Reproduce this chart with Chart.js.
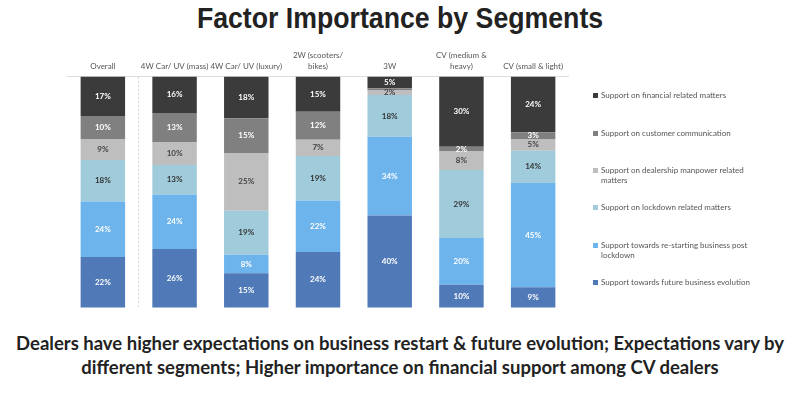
<!DOCTYPE html>
<html lang="en">
<head>
  <meta charset="UTF-8" />
  <title>Factor Importance by Segments</title>
  <script src="https://cdn.jsdelivr.net/npm/chart.js"></script>
  <style>
    body {
      margin: 0;
      width: 800px;
      height: 399px;
      background: #fff;
      position: relative;
      overflow: hidden;
      font-family: 'Lato', 'Open Sans', sans-serif;
    }
    h1 {
      position: absolute;
      top: 0;
      left: 0;
      width: 800px;
      margin: 0;
      text-align: center;
      font-family: 'Liberation Sans', Arial, sans-serif;
      font-weight: bold;
      font-size: 29px;
      line-height: 36px;
      color: #222;
      transform: scaleX(0.92);
    }
    .chart-wrap {
      position: absolute;
      left: 0;
      top: 0;
      width: 800px;
      height: 320px;
    }
    .legend {
      position: absolute;
      left: 593px;
      top: 0;
      width: 170px;
    }
    .legend div {
      position: absolute;
      left: 0;
      width: 160px;
      padding-left: 8px;
      font-size: 8px;
      line-height: 10px;
      color: #555;
    }
    .legend span {
      position: absolute;
      left: 0;
      top: 3px;
      width: 5px;
      height: 5px;
    }
    .note {
      position: absolute;
      left: 0;
      top: 331px;
      width: 800px;
      text-align: center;
      font-weight: bold;
      font-size: 18.5px;
      line-height: 24px;
      color: #222;
    }
  </style>
</head>
<body>

<h1>Factor Importance by Segments</h1>
<div class="chart-wrap"><canvas id="chart"></canvas></div>
<div class="legend" id="legend"></div>
<div class="note">Dealers have higher expectations on business restart &amp; future evolution; Expectations vary by<br>different segments; Higher importance on financial support among CV dealers</div>

<script>
  const segments = [
    'Overall',
    '4W Car/ UV (mass)',
    '4W Car/ UV (luxury)',
    ['2W (scooters/', 'bikes)'],
    '3W',
    ['CV (medium &', 'heavy)'],
    'CV (small & light)'
  ];

  // bottom to top of each bar
  const futureEvolution = [22, 26, 15, 24, 40, 10, 9];
  const restartPost     = [24, 24, 8, 22, 34, 20, 45];
  const lockdown        = [18, 13, 19, 19, 18, 29, 14];
  const manpower        = [9, 10, 25, 7, 2, 8, 5];
  const customerComm    = [10, 13, 15, 12, 1, 2, 3];
  const financial       = [17, 16, 18, 15, 5, 30, 24];

  const series = [
    { label: 'Support towards future business evolution', data: futureEvolution, color: '#5079b8', text: '#fff' },
    { label: 'Support towards re-starting business post lockdown', data: restartPost, color: '#6db3ec', text: '#fff' },
    { label: 'Support on lockdown related matters', data: lockdown, color: '#9fcbdb', text: '#333' },
    { label: 'Support on dealership manpower related matters', data: manpower, color: '#bebebe', text: '#444' },
    { label: 'Support on customer communication', data: customerComm, color: '#808080', text: '#fff' },
    { label: 'Support on financial related matters', data: financial, color: '#3b3b3b', text: '#fff' }
  ];

  // each bar is a 100% stack
  const totals = segments.map((_, i) => series.reduce((s, d) => s + d.data[i], 0));

  const labelPlugin = {
    id: 'segLabels',
    afterDatasetsDraw(chart) {
      const ctx = chart.ctx;
      ctx.save();
      ctx.font = 'bold 8px Lato, sans-serif';
      ctx.textAlign = 'center';
      ctx.textBaseline = 'middle';
      chart.data.datasets.forEach((ds, di) => {
        const meta = chart.getDatasetMeta(di);
        meta.data.forEach((bar, i) => {
          const v = series[di].data[i];
          if (v < 2) return;
          const p = bar.getProps(['x', 'y', 'base'], true);
          ctx.fillStyle = series[di].text;
          ctx.fillText(v + '%', p.x, (p.y + p.base) / 2);
        });
      });
      ctx.restore();
    }
  };

  new Chart(document.getElementById('chart'), {
    type: 'bar',
    data: {
      labels: segments,
      datasets: series.map(s => ({
        label: s.label,
        data: s.data.map((v, i) => v / totals[i] * 100),
        backgroundColor: s.color,
        borderWidth: 0,
        categoryPercentage: 1,
        barPercentage: 0.62
      }))
    },
    options: {
      responsive: true,
      maintainAspectRatio: false,
      animation: false,
      layout: { padding: { left: 67, right: 231, top: 45, bottom: 12 } },
      plugins: { legend: { display: false }, tooltip: { enabled: false } },
      scales: {
        x: {
          stacked: true,
          position: 'top',
          grid: {
            offset: true,
            drawTicks: false,
            lineWidth: 1,
            color: c => c.index === 1 ? '#d8d8d8' : 'transparent'
          },
          border: { display: false, dash: [2, 2] },
          ticks: {
            color: '#555',
            padding: 5,
            maxRotation: 0,
            autoSkip: false,
            font: { family: 'Lato', size: 8, lineHeight: 1.35 }
          }
        },
        y: {
          stacked: true,
          min: 0,
          max: 100,
          ticks: { display: false },
          border: { display: false },
          grid: {
            drawTicks: false,
            color: c => c.tick && c.tick.value === 100 ? '#dcdcdc' : 'transparent'
          }
        }
      }
    },
    plugins: [labelPlugin]
  });

  // legend, top item = top of the stacks
  const legendTops = [90, 128, 165, 202, 240, 277];
  const legend = document.getElementById('legend');
  series.slice().reverse().forEach((s, i) => {
    const item = document.createElement('div');
    item.style.top = legendTops[i] + 'px';
    item.innerHTML = '<span style="background:' + s.color + '"></span>' + s.label;
    legend.appendChild(item);
  });
</script>

</body>
</html>
